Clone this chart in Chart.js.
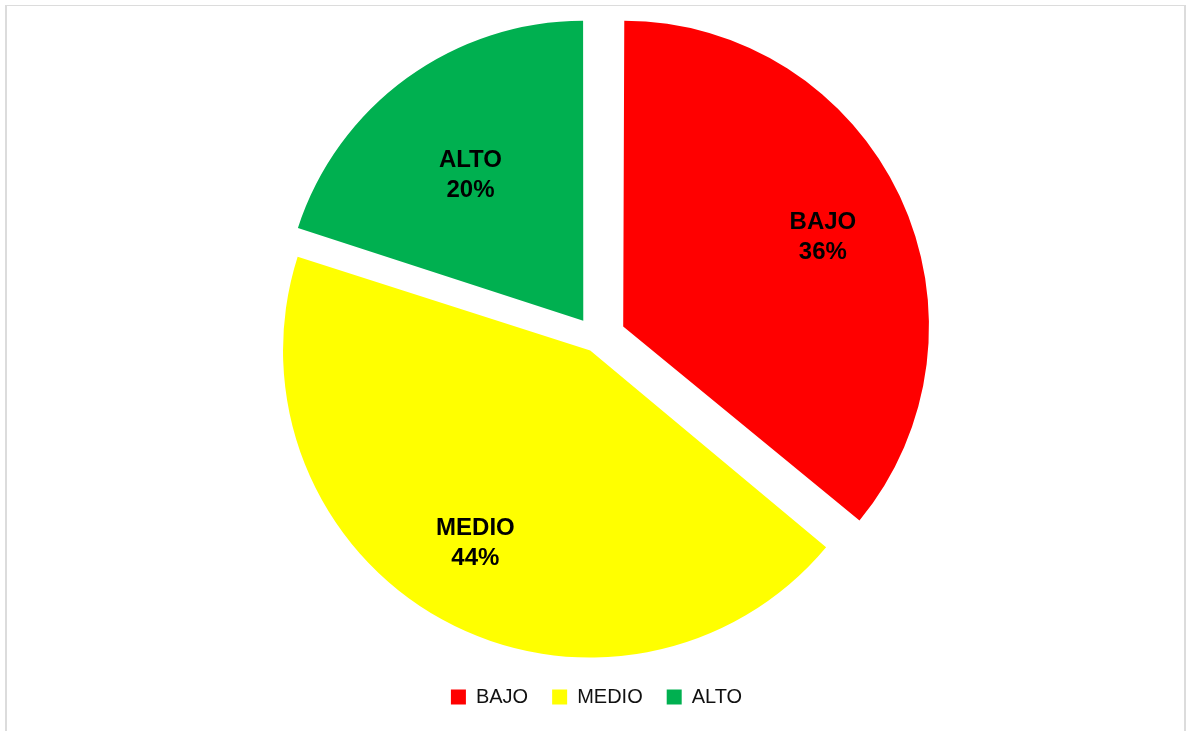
<!DOCTYPE html>
<html>
<head>
<meta charset="utf-8">
<script src="https://cdn.jsdelivr.net/npm/chart.js@4.4.1/dist/chart.umd.min.js"></script>
<style>
  html, body { margin: 0; padding: 0; background: #fff; overflow: hidden; }
  #wrap { position: relative; width: 1186px; height: 731px; }
  #frame {
    position: absolute; left: 5px; top: 5px; width: 1181px; height: 800px;
    box-sizing: border-box; border: 2px solid #dcdcdc; border-top-width: 1px;
    pointer-events: none;
  }
</style>
</head>
<body>
<div id="wrap">
  <canvas id="chart" width="1186" height="731"></canvas>
  <div id="frame"></div>
</div>
<script>
// Data
const categories = ['BAJO', 'MEDIO', 'ALTO'];
const shares = [36, 44, 20];
const sliceColors = ['#ff0000', '#ffff00', '#00b050'];

// Slice labels drawn inside each slice (name + percent)
const sliceLabels = {
  id: 'sliceLabels',
  afterDatasetsDraw(chart, args, opts) {
    const ctx = chart.ctx;
    const meta = chart.getDatasetMeta(0);
    ctx.save();
    ctx.font = 'bold 24px "Liberation Sans", Arial, sans-serif';
    ctx.fillStyle = '#000';
    ctx.textAlign = 'center';
    ctx.textBaseline = 'middle';
    meta.data.forEach((arc, i) => {
      const p = arc.getProps(['x', 'y', 'startAngle', 'endAngle']);
      const mid = (p.startAngle + p.endAngle) / 2;
      const shift = (arc.options.offset || 0) / 4;
      const d = shift + opts.dist[i] * opts.r;
      const cx = p.x + Math.cos(mid) * d + opts.nudge[i][0];
      const cy = p.y + Math.sin(mid) * d + opts.nudge[i][1];
      ctx.fillText(categories[i], cx, cy - 15);
      ctx.fillText(shares[i] + '%', cx, cy + 15);
    });
    ctx.restore();
  }
};

new Chart(document.getElementById('chart'), {
  type: 'pie',
  data: {
    labels: categories,
    datasets: [{
      data: shares,
      backgroundColor: sliceColors,
      borderWidth: 0,
      offset: [118, 52, 90],
      hoverOffset: 0
    }]
  },
  options: {
    responsive: false,
    animation: false,
    radius: 299,
    layout: { padding: { left: 7, right: 0, top: 15, bottom: 14 } },
    plugins: {
      tooltip: { enabled: false },
      legend: {
        position: 'bottom',
        labels: {
          boxWidth: 15,
          boxHeight: 15,
          padding: 24,
          color: '#111',
          font: { family: '"Liberation Sans", Arial, sans-serif', size: 20 }
        }
      },
      sliceLabels: {
        r: 305,
        dist: [0.72, 0.734, 0.607],
        nudge: [[1, 4], [-7, -3], [-4, 4]]
      }
    }
  },
  plugins: [sliceLabels]
});
</script>
</body>
</html>
